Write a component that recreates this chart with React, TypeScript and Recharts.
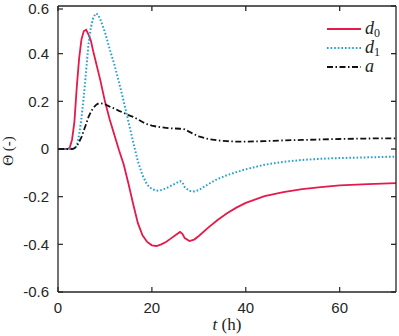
import { Label, Line, LineChart, XAxis, YAxis } from "recharts";

const tValues = [
  0, 2, 2.5, 3, 3.5, 4, 4.5, 5, 5.5, 6, 6.5, 7, 7.5, 8, 8.5, 9, 10, 11, 12, 13, 14, 15, 16, 17, 18, 19, 20,
  21, 22, 23, 24, 25, 26, 26.5, 27, 28, 29, 30, 32, 34, 36, 38, 40, 44, 48, 52, 56, 60, 66, 72,
];

const d0Values = [
  0, 0, 0.005, 0.04, 0.115, 0.26, 0.38, 0.46, 0.495, 0.5, 0.48, 0.455, 0.41, 0.37, 0.33, 0.29, 0.2, 0.125,
  0.06, -0.005, -0.065, -0.145, -0.23, -0.31, -0.362, -0.39, -0.404, -0.407, -0.4, -0.39, -0.376, -0.362,
  -0.348, -0.356, -0.374, -0.386, -0.38, -0.365, -0.33, -0.298, -0.27, -0.246, -0.226, -0.198, -0.181,
  -0.168, -0.16, -0.153, -0.147, -0.143,
];

const d1Values = [
  0, 0, 0, 0, 0.003, 0.012, 0.06, 0.13, 0.22, 0.33, 0.44, 0.51, 0.55, 0.568, 0.565, 0.545, 0.49, 0.42,
  0.355, 0.28, 0.2, 0.115, 0.03, -0.05, -0.11, -0.15, -0.168, -0.175, -0.172, -0.165, -0.155, -0.145,
  -0.135, -0.14, -0.16, -0.176, -0.178, -0.172, -0.148, -0.126, -0.11, -0.097, -0.085, -0.066, -0.054,
  -0.046, -0.041, -0.038, -0.035, -0.032,
];

const aValues = [
  0, 0, 0, 0, 0.003, 0.012, 0.03, 0.05, 0.078, 0.105, 0.135, 0.155, 0.172, 0.183, 0.19, 0.192, 0.188,
  0.178, 0.17, 0.16, 0.152, 0.142, 0.135, 0.125, 0.113, 0.104, 0.098, 0.094, 0.091, 0.089, 0.087, 0.086,
  0.085, 0.084, 0.082, 0.072, 0.062, 0.053, 0.042, 0.036, 0.033, 0.031, 0.031, 0.033, 0.036, 0.038,
  0.04, 0.042, 0.044, 0.045,
];

const xTicks = [0, 20, 40, 60];
const yTicks = [-0.6, -0.4, -0.2, 0, 0.2, 0.4, 0.6];

const data = tValues.map((t, i) => ({ t, d0: d0Values[i], d1: d1Values[i], a: aValues[i] }));

const AXIS = "#262626";
const TICK_FONT = "Liberation Sans, Arial, sans-serif";
const MATH_FONT = "Liberation Serif, Times New Roman, serif";

const series = [
  { key: "d0", name: "d", sub: "0", color: "#e6194b", dash: undefined, width: 1.8 },
  { key: "d1", name: "d", sub: "1", color: "#26a0d0", dash: "1.6 2", width: 2 },
  { key: "a", name: "a", sub: "", color: "#111111", dash: "6 2.5 1.5 2.5", width: 1.8 },
];

// inward tick mark + label; tickMargin is 10 so the axis sits 10px from (x, y)
function BottomTick(props: any) {
  const { x, y, payload } = props;
  return (
    <g>
      <line x1={x} x2={x} y1={y - 10} y2={y - 15} stroke={AXIS} strokeWidth={1.2} />
      <text x={x} y={y} dy="0.75em" textAnchor="middle" fill={AXIS} fontSize={15} fontFamily={TICK_FONT}>
        {payload.value}
      </text>
    </g>
  );
}

function LeftTick(props: any) {
  const { x, y, payload } = props;
  return (
    <g>
      <line x1={x + 9} x2={x + 14} y1={y} y2={y} stroke={AXIS} strokeWidth={1.2} />
      <text x={x} y={y} dy="0.36em" textAnchor="end" fill={AXIS} fontSize={15} fontFamily={TICK_FONT}>
        {payload.value}
      </text>
    </g>
  );
}

function LegendBox() {
  return (
    <div style={{ position: "absolute", left: 326, top: 19, fontFamily: MATH_FONT, color: "#222" }}>
      {series.map((s) => (
        <div key={s.key} style={{ display: "flex", alignItems: "center", height: 19 }}>
          <svg width={36} height={6} style={{ marginRight: 3 }}>
            <line x1={1} y1={3} x2={35} y2={3} stroke={s.color} strokeWidth={s.width} strokeDasharray={s.dash} />
          </svg>
          <span style={{ fontStyle: "italic", fontSize: 18 }}>{s.name}</span>
          {s.sub && <span style={{ fontSize: 12, marginTop: 9 }}>{s.sub}</span>}
        </div>
      ))}
    </div>
  );
}

export default function App() {
  return (
    <div style={{ position: "relative", width: 399, height: 336, background: "#fff" }}>
      <style>{"body{margin:0}"}</style>
      <LineChart width={399} height={336} data={data} margin={{ top: 6, right: 3, bottom: 0, left: 0 }}>
        <XAxis
          dataKey="t"
          type="number"
          domain={[0, 72]}
          ticks={xTicks}
          height={44}
          tickSize={0}
          tickMargin={10}
          tickLine={false}
          stroke={AXIS}
          strokeWidth={1.3}
          tick={BottomTick}
        >
          <Label
            content={() => (
              <text x={227} y={330} textAnchor="middle" fontFamily={MATH_FONT} fontSize={17} fill="#222">
                <tspan fontStyle="italic">t</tspan> (h)
              </text>
            )}
          />
        </XAxis>
        <XAxis
          xAxisId="top"
          dataKey="t"
          orientation="top"
          mirror
          type="number"
          domain={[0, 72]}
          ticks={xTicks}
          tickSize={5}
          tick={() => <g />}
          stroke={AXIS}
          strokeWidth={1.3}
        />
        <YAxis
          type="number"
          domain={[-0.6, 0.6]}
          ticks={yTicks}
          width={58}
          tickSize={0}
          tickMargin={9}
          tickLine={false}
          stroke={AXIS}
          strokeWidth={1.3}
          tick={LeftTick}
        >
          <Label
            content={() => (
              <text
                x={13}
                y={151}
                transform="rotate(-90 13 151)"
                textAnchor="middle"
                fontFamily={MATH_FONT}
                fontSize={15}
                fill="#222"
              >
                Θ (-)
              </text>
            )}
          />
        </YAxis>
        <YAxis
          yAxisId="right"
          orientation="right"
          mirror
          type="number"
          domain={[-0.6, 0.6]}
          ticks={yTicks}
          tickSize={5}
          tick={() => <g />}
          stroke={AXIS}
          strokeWidth={1.3}
        />
        {series.map((s) => (
          <Line
            key={s.key}
            dataKey={s.key}
            stroke={s.color}
            strokeWidth={s.width}
            strokeDasharray={s.dash}
            dot={false}
            type="linear"
            isAnimationActive={false}
          />
        ))}
        {/* carries the top/right frame axes; draws nothing */}
        <Line
          xAxisId="top"
          yAxisId="right"
          dataKey="a"
          stroke="none"
          dot={false}
          activeDot={false}
          isAnimationActive={false}
        />
      </LineChart>
      <LegendBox />
    </div>
  );
}
